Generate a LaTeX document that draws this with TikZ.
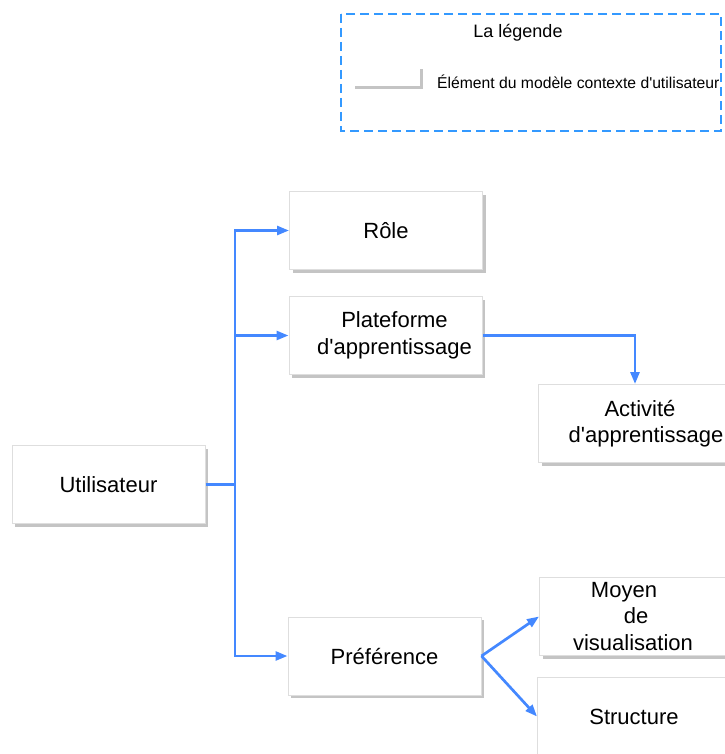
\documentclass[tikz,border=0pt]{standalone}
\usepackage{fontspec}
\setmainfont{Liberation Sans}[Ligatures=TeXOff]
\usetikzlibrary{arrows.meta,shadows}
\definecolor{lienbleu}{RGB}{68,136,255}
\definecolor{legendebleu}{RGB}{51,153,255}
\definecolor{bordgris}{RGB}{222,222,222}
\definecolor{ombregris}{RGB}{196,196,196}
\begin{document}
\begin{tikzpicture}[line join=miter,x=1pt,y=-1pt,
    boite/.style={draw=bordgris,line width=1pt,fill=white,minimum width=193pt,minimum height=78pt,
        inner sep=0pt,align=center,font=\fontsize{22}{26.5}\selectfont,
        drop shadow={shadow xshift=3pt,shadow yshift=-3pt,fill=ombregris,opacity=1}},
    lien/.style={draw=lienbleu,line width=2.7pt,-{Triangle[length=12pt,width=9pt]}},
    cadre/.style={draw=legendebleu,line width=2.7pt,dash pattern=on 9pt off 5pt}]
    \useasboundingbox (0,0) rectangle (724,754);
    % la legende
    \draw[cadre] (341,14) rectangle (721,131);
    \node[font=\fontsize{18}{21}\selectfont] (titre) at (518,33) {La légende};
    \draw[line width=3pt,ombregris] (355,88)--(421,88)--(421,69);
    \node[font=\fontsize{15.7}{19}\selectfont,anchor=west,inner sep=0pt] (elem) at (437,82) {Élément du modèle contexte d'utilisateur};
    % les elements
    \node[boite] (user) at (108.5,484.5) {Utilisateur};
    \node[boite] (role) at (386,230.5) {Rôle};
    \node[boite] (plat) at (385.5,335.5) {\hspace*{18pt}Plateforme\\\hspace*{18pt}d'apprentissage};
    \node[boite] (act) at (635,423.5) {\hspace*{10pt}Activité\\\hspace*{22pt}d'apprentissage};
    \node[boite] (pref) at (384.5,656) {Préférence};
    \node[boite] (moyen) at (636,616.5) {Moyen\hspace*{24pt}\\de\hspace*{14pt}\\visualisation\hspace*{6pt}};
    \node[boite] (struct) at (634,716.5) {Structure};
    % les liens
    \coordinate (tronc) at (235,484.5);
    \draw[lien] (user.east)--(tronc)|-(role.west);
    \draw[lien] (tronc)|-(plat.west);
    \draw[lien] (tronc)|-(pref.west);
    \draw[lien] (plat.east)-|(act.north);
    \draw[lien] (pref.east)--(moyen.west);
    \draw[lien] (pref.east)--(struct.west);
\end{tikzpicture}
\end{document}
